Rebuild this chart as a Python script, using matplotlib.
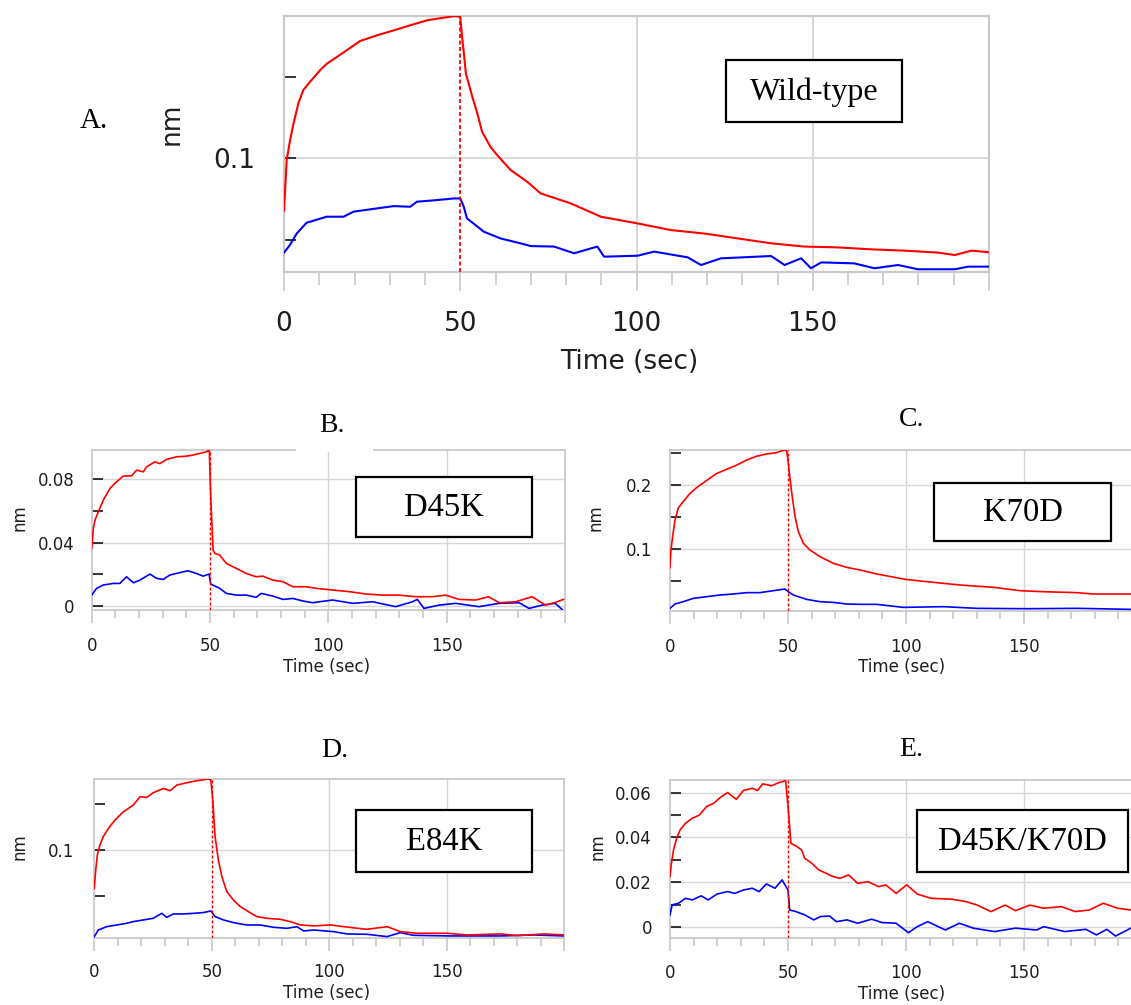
import matplotlib
matplotlib.use('Agg')
import matplotlib.pyplot as plt
from matplotlib.patches import Rectangle
from matplotlib.ticker import MultipleLocator, FixedLocator

# ---- data (time in sec, response in nm) ----
# A. Wild-type
ta_red = [0, 0.76, 1.7, 2.65, 4.1, 5.5, 7.4, 10.2, 12.1, 16.9, 21.6, 26.4, 31.1, 35.8, 40.6, 45.3, 48.6, 50,
          50.5, 51, 51.6, 53.4, 54.8, 56.2, 58.6, 60.5, 64.3, 69, 72.8, 81.3, 89.9, 100.3, 109.8, 119.2,
          128.7, 138.2, 147.6, 157.1, 166.6, 176.1, 185.6, 190.3, 195, 200]
a_red = [0.068, 0.099, 0.111, 0.121, 0.134, 0.142, 0.147, 0.154, 0.158, 0.165, 0.172, 0.1755, 0.1785, 0.1816,
         0.1847, 0.1863, 0.1873, 0.1867, 0.175, 0.165, 0.152, 0.138, 0.128, 0.1163, 0.107, 0.102, 0.0929,
         0.0857, 0.0786, 0.0725, 0.0643, 0.0602, 0.0561, 0.054, 0.051, 0.048, 0.046, 0.0455, 0.0443, 0.0435,
         0.0423, 0.0408, 0.0435, 0.0425]
ta_blue = [0, 1.7, 3.6, 6.4, 12.1, 16.9, 19.7, 26.4, 31.1, 35.8, 37.7, 43.4, 48.2, 50, 51, 51.9, 56.7, 61.4,
           67.1, 70, 76.6, 82.3, 88.9, 90.8, 100.3, 105, 114.5, 118.3, 124, 138.2, 142, 146.7, 149.5, 152.4,
           161.8, 167.5, 174.2, 179.8, 190.3, 194.1, 200]
a_blue = [0.0423, 0.047, 0.054, 0.0606, 0.0643, 0.0643, 0.0674, 0.0694, 0.0708, 0.0704, 0.0735, 0.0745, 0.0755,
          0.0755, 0.0704, 0.0633, 0.0551, 0.051, 0.048, 0.0463, 0.046, 0.0419, 0.046, 0.0398, 0.0404, 0.0429,
          0.0394, 0.0347, 0.0388, 0.0402, 0.0347, 0.0388, 0.0327, 0.0363, 0.0357, 0.0327, 0.0347, 0.0321,
          0.0321, 0.0337, 0.0337]

# B. D45K
tb_red = [0, 0.7, 1.4, 2.8, 4.9, 7.7, 10.5, 13.3, 16.9, 19, 21.8, 23.2, 26.7, 28.8, 31.6, 35.8, 40, 42.8, 45.6,
          48.5, 49.7, 50.1, 50.6, 51.3, 52, 54.1, 56.9, 61.1, 65.3, 69.5, 72.3, 76.5, 80.8, 85, 90.6, 94.8,
          101.8, 108.8, 115.9, 122.9, 129.9, 136.9, 143.9, 149.6, 155.2, 162.2, 167.8, 172.1, 179.1, 186.1,
          191.7, 195.9, 199.4]
b_red = [0.0364, 0.049, 0.0543, 0.0596, 0.0669, 0.0743, 0.0785, 0.0821, 0.0823, 0.0859, 0.0848, 0.088, 0.0911,
         0.090, 0.0926, 0.0943, 0.0947, 0.0954, 0.0964, 0.0975, 0.0985, 0.0775, 0.0585, 0.0354, 0.0333, 0.0322,
         0.0269, 0.0238, 0.0206, 0.0185, 0.0189, 0.0164, 0.0154, 0.0122, 0.0122, 0.0112, 0.0101, 0.0091,
         0.0076, 0.0069, 0.0069, 0.0059, 0.0059, 0.0069, 0.0042, 0.0038, 0.0059, 0.0021, 0.0027, 0.0059,
         0.0006, 0.0023, 0.0042]
tb_blue = [0, 2.1, 4.9, 9.1, 11.9, 14.7, 17.6, 20.4, 24.6, 27.4, 30.2, 33, 37.2, 40.7, 44.2, 47.1, 49.6, 50.3,
           54.1, 56.9, 61.1, 65.3, 69.5, 71.6, 76.5, 80.8, 85, 89.2, 93.4, 96.2, 101.8, 110.3, 118.7, 128.5,
           135.5, 137.6, 140.4, 146.8, 153.8, 163.6, 172.1, 180.6, 184.8, 190.4, 195.9, 198.7]
b_blue = [0.0069, 0.0112, 0.0133, 0.0143, 0.0143, 0.0185, 0.0147, 0.0164, 0.0202, 0.0175, 0.0168, 0.0196,
          0.0211, 0.0223, 0.0206, 0.0189, 0.0202, 0.0139, 0.0112, 0.008, 0.0069, 0.0069, 0.0055, 0.008, 0.0063,
          0.0042, 0.0048, 0.0032, 0.0021, 0.0027, 0.0038, 0.0017, 0.0027, -0.0004, 0.0027, 0.0042, -0.0015,
          0.0006, 0.0017, -0.0004, 0.0017, 0.0021, -0.0015, 0.0006, 0.0017, -0.0021]

# C. K70D
tc_red = [0, 0.4, 1.1, 2.1, 3.5, 5.6, 8.5, 11.3, 15.5, 19.8, 24, 28.2, 32.5, 36.7, 41, 45.2, 48.3, 49.4, 50,
          50.6, 51.6, 53, 54.4, 56.5, 59.3, 63.6, 69.2, 74.9, 80.5, 87.6, 99.6, 108.8, 122.9, 137, 148.3, 158.2,
          172.3, 179.4, 195.3, 200]
c_red = [0.0708, 0.098, 0.119, 0.145, 0.164, 0.174, 0.187, 0.196, 0.207, 0.218, 0.2245, 0.231, 0.239, 0.245,
         0.2485, 0.2506, 0.2547, 0.2536, 0.239, 0.218, 0.187, 0.1505, 0.127, 0.109, 0.0984, 0.088, 0.0776,
         0.0713, 0.0672, 0.061, 0.0526, 0.049, 0.0437, 0.0401, 0.0349, 0.0333, 0.0318, 0.0297, 0.0297, 0.029]
tc_blue = [0, 2.1, 5.6, 9.9, 15.5, 21.2, 26.8, 32.5, 38.1, 43.8, 48.7, 50.1, 52.3, 57.9, 63.6, 69.2, 74.9, 81.9,
           87.6, 98.9, 115.8, 129.9, 151.1, 172.3, 195.3, 200]
c_blue = [0.0073, 0.014, 0.0177, 0.0229, 0.0255, 0.0281, 0.0297, 0.0318, 0.0318, 0.0349, 0.0375, 0.0333, 0.0281,
          0.0213, 0.0177, 0.0166, 0.014, 0.0135, 0.0135, 0.0088, 0.0099, 0.0073, 0.0067, 0.0073, 0.0057, 0.0057]

# D. E84K
td_red = [0, 0.6, 1.3, 2.4, 3.8, 6, 8.8, 12.4, 16.6, 19.5, 22.3, 25.1, 29.4, 32.2, 35.1, 39.3, 43.6, 48.6, 49.6,
          50.4, 51.4, 52.8, 54.3, 56.4, 59.2, 62.1, 65.6, 69.2, 73.4, 79.1, 83.4, 87.6, 93.3, 100.4, 106.1, 116,
          124.6, 130.2, 137.3, 150, 158.7, 172.9, 180, 191.3, 200]
d_red = [0.0583, 0.0783, 0.0946, 0.1054, 0.1145, 0.1235, 0.1326, 0.1416, 0.1489, 0.158, 0.1572, 0.1623, 0.167,
         0.1644, 0.1706, 0.1731, 0.1753, 0.1771, 0.176, 0.1543, 0.1145, 0.0891, 0.071, 0.0548, 0.0457, 0.0385,
         0.033, 0.0276, 0.0258, 0.0247, 0.0222, 0.0186, 0.0175, 0.0186, 0.0167, 0.0138, 0.0167, 0.0113,
         0.0095, 0.0095, 0.0077, 0.0088, 0.007, 0.0088, 0.0077]
td_blue = [0, 1.7, 5.3, 9.5, 13.8, 16.6, 20.9, 25.1, 28.7, 30.8, 33.7, 37.9, 42.2, 46.4, 49.6, 51.4, 55, 59.2,
           64.9, 70.6, 76.3, 82, 86.2, 89.1, 93.3, 101.8, 107.5, 116, 124.6, 130.2, 135.8, 151.4, 172.9, 187, 200]
d_blue = [0.0059, 0.0131, 0.0167, 0.0185, 0.0204, 0.0222, 0.024, 0.0258, 0.0312, 0.0269, 0.0305, 0.0305, 0.0312,
          0.032, 0.0338, 0.0276, 0.024, 0.0211, 0.0185, 0.0185, 0.016, 0.0149, 0.0167, 0.012, 0.0131, 0.0113,
          0.0088, 0.0084, 0.0059, 0.0102, 0.0073, 0.0066, 0.0066, 0.0077, 0.0066]

# E. D45K/K70D
te_red = [0, 0.6, 1.5, 2.8, 4.3, 6.5, 9.5, 12.5, 15.5, 18.5, 21.4, 24.4, 28.1, 31.1, 34.8, 37.1, 39.3, 43, 46,
          49, 50, 50.7, 51.2, 53.4, 55.7, 57.1, 60.1, 63.1, 66.1, 69, 72, 75.7, 79.5, 83.9, 88.4, 91.4, 95.8,
          100.3, 104.8, 110.7, 119.6, 125.6, 130.1, 136, 142, 146.4, 152.4, 158.3, 165.8, 171.7, 177.7, 183.6,
          189.6, 195.2, 200]
e_red = [0.0226, 0.0285, 0.0345, 0.0396, 0.0434, 0.0463, 0.0486, 0.05, 0.0538, 0.0552, 0.0579, 0.06, 0.057,
         0.0609, 0.0619, 0.0609, 0.0639, 0.063, 0.0644, 0.0653, 0.0538, 0.0448, 0.0374, 0.0362, 0.0345, 0.0307,
         0.0285, 0.0255, 0.0241, 0.0226, 0.0218, 0.0233, 0.0196, 0.0203, 0.0181, 0.0189, 0.0151, 0.0189,
         0.0148, 0.0129, 0.0125, 0.0114, 0.0099, 0.007, 0.0099, 0.0074, 0.0099, 0.0085, 0.0092, 0.007, 0.0077,
         0.0107, 0.0085, 0.0077, 0.008]
te_blue = [0, 0.9, 3.6, 6.5, 9.5, 13.2, 16.2, 19.9, 24.4, 27.4, 31.1, 34.8, 37.8, 40.8, 44.5, 47.5, 49, 50, 50.7,
           53.4, 57.1, 60.9, 63.8, 67.6, 70.5, 75, 79.5, 85.4, 89.9, 95.8, 101, 104.8, 109.2, 116.7, 122.6,
           128.6, 137.5, 146.4, 155.4, 158.3, 167.3, 176.2, 180.7, 185.1, 188.8, 195.2, 200]
e_blue = [0.0055, 0.01, 0.0107, 0.0129, 0.0122, 0.014, 0.0122, 0.0148, 0.0159, 0.0151, 0.0166, 0.0174, 0.0159,
          0.0193, 0.0174, 0.0211, 0.0184, 0.0166, 0.0077, 0.007, 0.0055, 0.0033, 0.0048, 0.005, 0.0025, 0.0033,
          0.0018, 0.0036, 0.0021, 0.0018, -0.0024, 0.0003, 0.0025, -0.0012, 0.0018, -0.0004, -0.0019, -0.0004,
          -0.0012, 0.0003, -0.0019, -0.0009, -0.0034, -0.0009, -0.0039, -0.0004, -0.0004]

x_major = [0, 50, 100, 150, 200]
x_labels = ['0', '50', '100', '150', '']

W, H = 1131, 1005
fig = plt.figure(figsize=(W / 100, H / 100), dpi=100)
SANS = 'DejaVu Sans'
SERIF = 'Liberation Serif'
GRAY = '#c9c9c9'
GRID = '#d6d6d6'
TXT = '#1e1e1e'


def fbox(l, t, r, b):
    # pixel box (left, top, right, bottom) -> figure fraction rect
    return [l / W, 1 - b / H, (r - l) / W, (b - t) / H]


def fxy(x, y):
    return x / W, 1 - y / H


def panel(rect, ylim, ymaj, ylab, ymin, red, blue, fs, lw, tick_pad, ypad, nm_xy, time_xy):
    ax = fig.add_axes(fbox(*rect))
    ax.set_xlim(0, 200)
    ax.set_ylim(*ylim)
    for s in ax.spines.values():
        s.set_color(GRAY)
        s.set_linewidth(lw + 0.3)
    for x in [100, 150]:
        ax.axvline(x, color=GRID, lw=lw, zorder=1)
    for y in ymaj:
        ax.axhline(y, color=GRID, lw=lw, zorder=1)
    ax.plot(blue[0], blue[1], color='#0000ff', lw=lw + 0.2, zorder=3)
    ax.plot(red[0], red[1], color='#ff0000', lw=lw + 0.2, zorder=4)
    ax.axvline(50, color='#ff0000', lw=lw, ls=(0, (2.2, 1.4)), zorder=5)

    ax.set_xticks(x_major)
    ax.set_xticklabels(x_labels)
    ax.xaxis.set_minor_locator(MultipleLocator(10))
    big = fs > 15
    ax.tick_params(axis='x', which='major', direction='out', length=14 if big else 9, width=1.2,
                   color=GRAY, pad=tick_pad, labelsize=fs, labelcolor=TXT)
    ax.tick_params(axis='x', which='minor', direction='out', length=9 if big else 6, width=1.2, color=GRAY)

    ax.set_yticks(ymaj)
    ax.set_yticklabels(ylab)
    ax.yaxis.set_minor_locator(FixedLocator(ymin))
    ax.tick_params(axis='y', which='both', direction='in', length=8.5 if big else 8, width=1.1,
                   color='black', pad=ypad, labelsize=fs, labelcolor=TXT)
    for lab in ax.get_xticklabels() + ax.get_yticklabels():
        lab.set_family(SANS)

    ax.set_ylabel('nm', fontsize=fs, color=TXT, family=SANS)
    ax.yaxis.set_label_coords(*fxy(*nm_xy), transform=fig.transFigure)
    ax.set_xlabel('Time (sec)', fontsize=fs, color=TXT, family=SANS)
    ax.xaxis.set_label_coords(*fxy(*time_xy), transform=fig.transFigure)
    ax.xaxis.label.set_va('center')
    ax.yaxis.label.set_va('center')
    return ax


def name_box(l, t, r, b, text, fs):
    fig.add_artist(Rectangle(fxy(l, b), (r - l) / W, (b - t) / H, transform=fig.transFigure,
                             facecolor='white', edgecolor='black', lw=1.6, zorder=10))
    fig.text(*fxy((l + r) / 2, (t + b) / 2 + 1), text, ha='center', va='center', fontsize=fs,
             family=SERIF, zorder=11)


def white_gap(l, t, r, b):
    fig.add_artist(Rectangle(fxy(l, b), (r - l) / W, (b - t) / H, transform=fig.transFigure,
                             facecolor='white', edgecolor='none', zorder=9))


# A. Wild-type
panel((284, 15.7, 989, 271.7), (0.0306, 0.1875), [0.1], ['0.1'], [0.05, 0.15],
      (ta_red, a_red), (ta_blue, a_blue), 19, 1.3, 14.5, 21, (172, 124), (629, 362))
# B. D45K
panel((91.7, 450, 565, 610), (-0.0025, 0.0986), [0, 0.04, 0.08], ['0', '0.04', '0.08'], [0.02, 0.06],
      (tb_red, b_red), (tb_blue, b_blue), 12, 1.0, 10.5, 12.5, (19, 518), (327, 667))
# C. K70D
panel((670, 450, 1142, 610.7), (0.0036, 0.2547), [0.1, 0.2], ['0.1', '0.2'], [0.05, 0.15, 0.25],
      (tc_red, c_red), (tc_blue, c_blue), 12, 1.0, 10.5, 13, (596, 518), (902, 667))
# D. E84K
panel((94.3, 779, 564.3, 937.7), (0.0047, 0.1772), [0.1], ['0.1'], [0.05, 0.15],
      (td_red, d_red), (td_blue, d_blue), 12, 1.0, 9.5, 14.5, (20, 847), (327, 993))
# E. D45K/K70D
panel((670, 780, 1142, 938.3), (-0.0049, 0.0656), [0, 0.02, 0.04, 0.06], ['0', '0.02', '0.04', '0.06'],
      [0.01, 0.03, 0.05], (te_red, e_red), (te_blue, e_blue), 12, 1.0, 9.5, 13, (597, 847), (902, 994))

# panel letters and mutant name boxes
white_gap(296, 400, 373, 451.5)
fig.text(*fxy(94, 121), 'A.', ha='center', va='center', fontsize=21, family=SERIF, zorder=11)
fig.text(*fxy(332, 425), 'B.', ha='center', va='center', fontsize=20, family=SERIF, zorder=11)
fig.text(*fxy(912, 419), 'C.', ha='center', va='center', fontsize=20, family=SERIF, zorder=11)
fig.text(*fxy(335, 750), 'D.', ha='center', va='center', fontsize=20, family=SERIF, zorder=11)
fig.text(*fxy(911, 749), 'E.', ha='center', va='center', fontsize=20, family=SERIF, zorder=11)

name_box(725.7, 60, 902.3, 122, 'Wild-type', 23)
name_box(355.7, 476.7, 532.3, 537.3, 'D45K', 23.5)
name_box(934, 482.7, 1111.3, 541.3, 'K70D', 23.5)
name_box(355.7, 810, 532.3, 871.7, 'E84K', 23.5)
name_box(917.3, 810, 1128, 872.3, 'D45K/K70D', 23.5)

fig.savefig('out.png', dpi=100)
